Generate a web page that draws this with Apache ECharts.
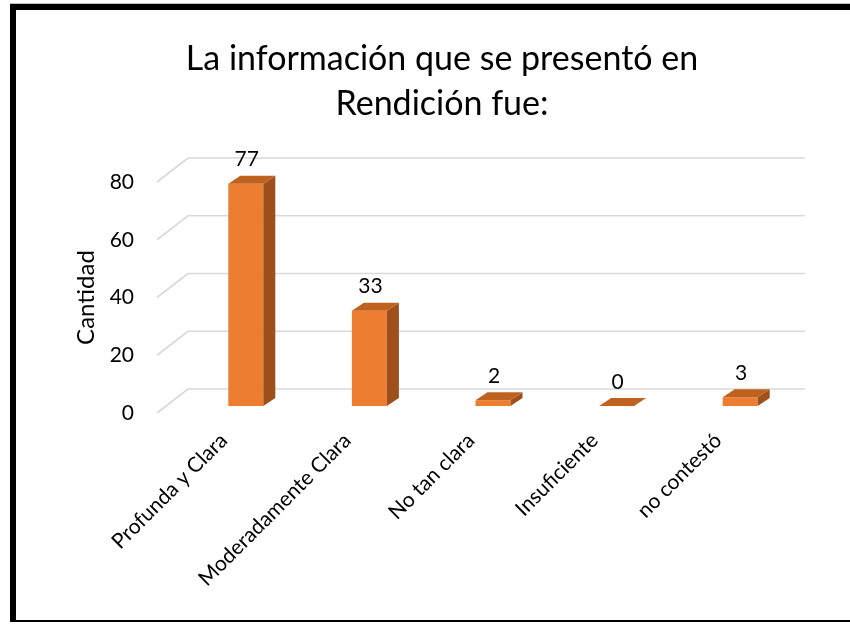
<!DOCTYPE html>
<html>
<head>
<meta charset="utf-8">
<script src="https://cdn.jsdelivr.net/npm/echarts@6/dist/echarts.min.js"></script>
<style>
  html, body { margin: 0; padding: 0; background: #fff; }
  #chart { width: 850px; height: 624px; }
</style>
</head>
<body>
<div id="chart"></div>
<script>
// datos
const categories = ["Profunda y Clara", "Moderadamente Clara", "No tan clara", "Insuficiente", "no contestó"];
const cantidad = [77, 33, 2, 0, 3];
const yTicks = [0, 20, 40, 60, 80];

const FONT = "Lato";
const FRONT = "#ED7D31";
const SIDE = "#9E501C";
const TOP = "#C0621F";
const GRID = "#D9D9D9";

// barra 3D: cara frontal, lateral y superior
function renderBar(params, api) {
  const idx = api.value(0);
  const v = api.value(1);
  const base = api.coord([idx, 0]);
  const top = api.coord([idx, v]);
  const cx = base[0] + 22;
  const hw = 17.5;
  const dx = 12, dy = -8;
  const y0 = base[1] - 7;
  const y1 = top[1] - 7;
  const l = cx - hw, r = cx + hw;
  const children = [];
  if (y0 - y1 > 0.5) {
    children.push({
      type: "rect",
      shape: { x: l, y: y1, width: r - l, height: y0 - y1 },
      style: { fill: FRONT }
    });
    children.push({
      type: "polygon",
      shape: { points: [[r, y1], [r + dx, y1 + dy], [r + dx, y0 + dy], [r, y0]] },
      style: { fill: SIDE }
    });
  }
  children.push({
    type: "polygon",
    shape: { points: [[l, y1], [r, y1], [r + dx, y1 + dy], [l + dx, y1 + dy]] },
    style: { fill: TOP }
  });
  children.push({
    type: "text",
    style: {
      text: String(v),
      x: cx + 1,
      y: y1 + dy - 16,
      align: "center",
      verticalAlign: "middle",
      font: "21px " + FONT,
      fill: "#000"
    }
  });
  return { type: "group", children: children };
}

// líneas de la cuadrícula en perspectiva (pared del fondo)
function renderGrid(params, api) {
  const cs = params.coordSys;
  const y = api.coord([0, api.value(1)])[1];
  const x0 = cs.x - 5;
  const x1 = cs.x + 26;
  const x2 = cs.x + cs.width + 25;
  return {
    type: "polyline",
    shape: { points: [[x0, y], [x1, y - 24], [x2, y - 24]] },
    style: { stroke: GRID, lineWidth: 1.6, fill: null }
  };
}

const option = {
  backgroundColor: "#fff",
  animation: false,
  title: {
    text: "La información que se presentó en\nRendición fue:",
    left: 437,
    textAlign: "center",
    top: 32,
    textStyle: {
      fontFamily: FONT,
      fontSize: 34,
      fontWeight: "normal",
      color: "#000",
      lineHeight: 45
    }
  },
  grid: {
    left: 162,
    right: 70,
    top: 182,
    bottom: 211
  },
  xAxis: {
    type: "category",
    data: categories,
    axisLine: { show: false },
    axisTick: { show: false },
    axisLabel: {
      rotate: 45,
      margin: 24,
      interval: 0,
      fontFamily: FONT,
      fontSize: 21,
      color: "#000"
    }
  },
  yAxis: {
    type: "value",
    min: 0,
    max: 80,
    interval: 20,
    name: "Cantidad",
    nameLocation: "middle",
    nameGap: 62,
    nameTextStyle: { fontFamily: FONT, fontSize: 24, color: "#000" },
    axisLine: { show: false },
    axisTick: { show: false },
    splitLine: { show: false },
    axisLabel: {
      margin: 28,
      fontFamily: FONT,
      fontSize: 21,
      color: "#000"
    }
  },
  series: [
    {
      type: "custom",
      renderItem: renderGrid,
      data: yTicks.map(t => [0, t]),
      z: 1,
      silent: true
    },
    {
      type: "custom",
      renderItem: renderBar,
      data: cantidad.map((v, i) => [i, v]),
      z: 2
    }
  ],
  graphic: [
    { type: "rect", shape: { x: 10, y: 3, width: 840, height: 1 }, style: { fill: "#BFBFBF" } },
    { type: "rect", shape: { x: 10, y: 4, width: 840, height: 6 }, style: { fill: "#000" } },
    { type: "rect", shape: { x: 10, y: 4, width: 6, height: 618 }, style: { fill: "#000" } },
    { type: "rect", shape: { x: 10, y: 620, width: 840, height: 2 }, style: { fill: "#000" } }
  ]
};

const chartDom = document.getElementById("chart");
const myChart = echarts.init(chartDom);
myChart.setOption(option);
</script>
</body>
</html>
